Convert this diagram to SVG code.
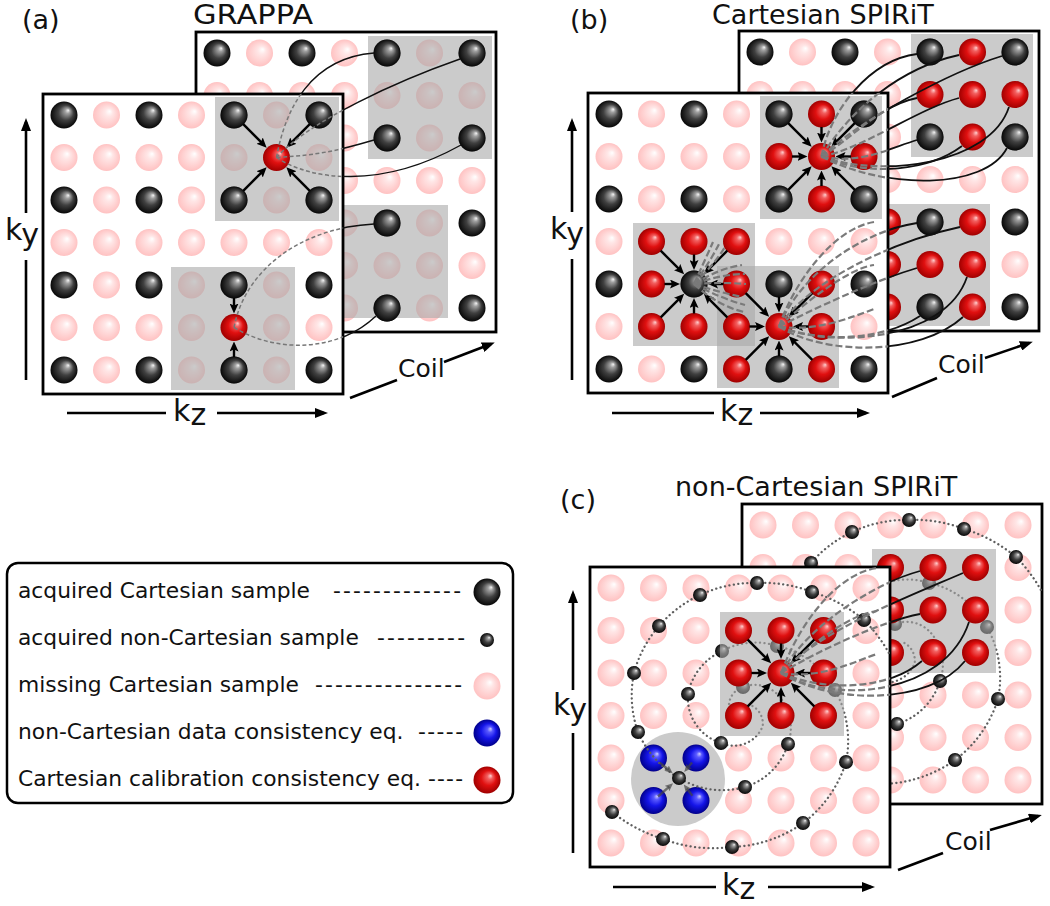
<svg xmlns="http://www.w3.org/2000/svg" width="1050" height="906" viewBox="0 0 1050 906">
<style>
text{font-family:"DejaVu Sans","Liberation Sans",sans-serif;fill:#111}
.ttl{font-size:27px}
.coil{font-size:25px}
.ax{font-size:30px}
.lg{font-size:21.8px}
.fr{fill:#fff;stroke:#000;stroke-width:2.8}
.gb{fill:#a8a8a8;fill-opacity:0.6}
.dot{fill:none;stroke:#5e5e5e;stroke-width:2.3;stroke-linecap:round;stroke-dasharray:0.1 4.4}
.ka path{fill:none;stroke:#000;stroke-width:2.4;marker-end:url(#ah)}
.axl{fill:none;stroke:#000;stroke-width:2.6}
.axm{marker-end:url(#ahx)}
.sa{fill:none;stroke:#111;stroke-width:1.4}
.da{fill:none;stroke:#777;stroke-width:1.5;stroke-dasharray:4 2.5}
.sb{fill:none;stroke:#111;stroke-width:1.8}
.db{fill:none;stroke:#7a7a7a;stroke-width:2.2;stroke-dasharray:7 3}
.bl path{fill:none;stroke:#444;stroke-opacity:0.7;stroke-width:2.4;marker-end:url(#ahg)}
</style>
<defs>
<radialGradient id="gBk" cx="0.5" cy="0.5" r="0.5" fx="0.66" fy="0.32"><stop offset="0" stop-color="#f6f6f6"/><stop offset="0.18" stop-color="#a0a0a0"/><stop offset="0.55" stop-color="#404040"/><stop offset="1" stop-color="#070707"/></radialGradient>
<radialGradient id="gRd" cx="0.5" cy="0.5" r="0.5" fx="0.64" fy="0.34"><stop offset="0" stop-color="#ffd0d0"/><stop offset="0.2" stop-color="#f26060"/><stop offset="0.55" stop-color="#e01010"/><stop offset="1" stop-color="#a00000"/></radialGradient>
<radialGradient id="gPk" cx="0.5" cy="0.5" r="0.5" fx="0.62" fy="0.36"><stop offset="0" stop-color="#ffffff"/><stop offset="0.3" stop-color="#ffe6e6"/><stop offset="1" stop-color="#ffc2c2"/></radialGradient>
<radialGradient id="gBu" cx="0.5" cy="0.5" r="0.5" fx="0.64" fy="0.34"><stop offset="0" stop-color="#d0d0ff"/><stop offset="0.2" stop-color="#5a5aff"/><stop offset="0.55" stop-color="#1515e8"/><stop offset="1" stop-color="#00008c"/></radialGradient>
<circle id="B" r="13.5" fill="url(#gBk)"/>
<circle id="P" r="13.5" fill="url(#gPk)"/>
<circle id="R" r="13.5" fill="url(#gRd)"/>
<circle id="U" r="13.5" fill="url(#gBu)"/>
<circle id="s" r="7" fill="url(#gBk)"/>
<marker id="ah" viewBox="0 0 10 9" refX="4" refY="4.5" markerWidth="10" markerHeight="9" markerUnits="userSpaceOnUse" orient="auto"><path d="M0,0L10,4.5L0,9L2,4.5z" fill="#000"/></marker>
<marker id="ahg" viewBox="0 0 8 7" refX="3" refY="3.5" markerWidth="8" markerHeight="7" markerUnits="userSpaceOnUse" orient="auto"><path d="M0,0L8,3.5L0,7L1.5,3.5z" fill="#444" fill-opacity="0.7"/></marker>
<marker id="ahx" viewBox="0 0 13 10" refX="9" refY="5" markerWidth="13" markerHeight="10" markerUnits="userSpaceOnUse" orient="auto"><path d="M0,0L13,5L0,10z" fill="#000"/></marker>
<g id="rBP"><use href="#B" x="21"/><use href="#P" x="63.5"/><use href="#B" x="106"/><use href="#P" x="148.5"/><use href="#B" x="191"/><use href="#P" x="233.5"/><use href="#B" x="276"/></g>
<g id="rP"><use href="#P" x="21"/><use href="#P" x="63.5"/><use href="#P" x="106"/><use href="#P" x="148.5"/><use href="#P" x="191"/><use href="#P" x="233.5"/><use href="#P" x="276"/></g>
<g id="gridBP"><use href="#rBP" y="21"/><use href="#rP" y="63.5"/><use href="#rBP" y="106"/><use href="#rP" y="148.5"/><use href="#rBP" y="191"/><use href="#rP" y="233.5"/><use href="#rBP" y="276"/></g>
<g id="gridP"><use href="#rP" y="21"/><use href="#rP" y="63.5"/><use href="#rP" y="106"/><use href="#rP" y="148.5"/><use href="#rP" y="191"/><use href="#rP" y="233.5"/><use href="#rP" y="276"/></g>
<g id="d4" class="ka"><path d="M-33.3,-33.3L-14.1,-14.1"/><path d="M33.3,-33.3L14.1,-14.1"/><path d="M-33.3,33.3L-14.1,14.1"/><path d="M33.3,33.3L14.1,14.1"/></g>
<g id="a4" class="ka"><path d="M0,-29.5V-20"/><path d="M0,29.5V20"/><path d="M-29.5,0H-20"/><path d="M29.5,0H20"/></g>
<g id="v2" class="ka"><path d="M0,-29.5V-20"/><path d="M0,29.5V20"/></g>
<g id="spiral">
<path class="dot" d="M162.4,139A20,20 0 0 1 172.7,159A31,31 0 0 1 131,176A47,47 0 0 1 98,127A60,60 0 0 1 132,84A70,70 0 0 1 187,79A85,85 0 0 1 245,123A105,105 0 0 1 256,195A121,121 0 0 1 213,256A131,131 0 0 1 142,280A142,142 0 0 1 73,272A157,157 0 0 1 22,245"/>
<path class="dot" d="M139,137A20,20 0 0 1 153,120A32,32 0 0 1 188,128A48,48 0 0 1 198,177A65,65 0 0 1 155,220A83,83 0 0 1 89,211A98,98 0 0 1 48,165A110,110 0 0 1 44,106A117,117 0 0 1 69,59A122,122 0 0 1 110,28A127,127 0 0 1 167,16A134,134 0 0 1 222,25A146,146 0 0 1 274,53A156,156 0 0 1 300,88"/>
<use href="#s" x="131" y="176"/><use href="#s" x="98" y="127"/><use href="#s" x="132" y="84"/><use href="#s" x="187" y="79"/><use href="#s" x="245" y="123"/><use href="#s" x="256" y="195"/><use href="#s" x="213" y="256"/><use href="#s" x="142" y="280"/><use href="#s" x="73" y="272"/><use href="#s" x="22" y="245"/>
<use href="#s" x="153" y="120"/><use href="#s" x="198" y="177"/><use href="#s" x="155" y="220"/><use href="#s" x="89" y="211"/><use href="#s" x="48" y="165"/><use href="#s" x="44" y="106"/><use href="#s" x="69" y="59"/><use href="#s" x="110" y="28"/><use href="#s" x="167" y="16"/><use href="#s" x="222" y="25"/><use href="#s" x="274" y="53"/>
</g>
<clipPath id="inA"><rect x="43" y="94" width="300" height="300"/></clipPath>
<clipPath id="outA"><path clip-rule="evenodd" d="M0,0H1050V906H0Z M43,94h300v300h-300Z"/></clipPath>
<clipPath id="inB"><rect x="588" y="93" width="300" height="300"/></clipPath>
<clipPath id="outB"><path clip-rule="evenodd" d="M0,0H1050V906H0Z M588,93h300v300h-300Z"/></clipPath>
<clipPath id="inC"><rect x="590" y="567" width="300" height="300"/></clipPath>
<clipPath id="outC"><path clip-rule="evenodd" d="M0,0H1050V906H0Z M590,567h300v300h-300Z"/></clipPath>
<clipPath id="loc"><rect x="0" y="0" width="300" height="300"/></clipPath>
</defs>
<rect width="1050" height="906" fill="#fff"/>

<!-- Panel (a) -->
<g id="a-back" transform="translate(196,32)">
<rect class="fr" x="0" y="0" width="300" height="300"/>
<use href="#gridBP"/>
<rect class="gb" x="172" y="4" width="124" height="123"/>
<rect class="gb" x="128" y="173" width="124" height="113"/>
<use href="#B" x="191" y="21"/><use href="#B" x="276" y="21"/><use href="#B" x="191" y="106"/><use href="#B" x="276" y="106"/>
<use href="#B" x="191" y="191"/><use href="#B" x="191" y="276"/>
</g>
<g id="a-front" transform="translate(43,94)">
<rect class="fr" x="0" y="0" width="300" height="300"/>
<use href="#gridBP"/>
<rect class="gb" x="172" y="3" width="124" height="124"/>
<rect class="gb" x="128" y="173" width="124" height="123"/>
<use href="#B" x="191" y="21"/><use href="#B" x="276" y="21"/><use href="#B" x="191" y="106"/><use href="#B" x="276" y="106"/>
<use href="#R" x="233.5" y="63.5"/>
<use href="#B" x="191" y="191"/><use href="#B" x="191" y="276"/>
<use href="#R" x="191" y="233.5"/>
</g>

<!-- Panel (b) -->
<g id="b-back" transform="translate(739,31)">
<rect class="fr" x="0" y="0" width="300" height="300"/>
<use href="#gridBP"/>
<rect class="gb" x="172" y="3" width="122" height="123"/>
<rect class="gb" x="129" y="173" width="122" height="122"/>
<use href="#B" x="191" y="21"/><use href="#R" x="233.5" y="21"/><use href="#B" x="276" y="21"/>
<use href="#R" x="191" y="63.5"/><use href="#R" x="233.5" y="63.5"/><use href="#R" x="276" y="63.5"/>
<use href="#B" x="191" y="106"/><use href="#R" x="233.5" y="106"/><use href="#B" x="276" y="106"/>
<use href="#R" x="148.5" y="191"/><use href="#B" x="191" y="191"/><use href="#R" x="233.5" y="191"/>
<use href="#R" x="148.5" y="233.5"/><use href="#R" x="191" y="233.5"/><use href="#R" x="233.5" y="233.5"/>
<use href="#R" x="148.5" y="276"/><use href="#B" x="191" y="276"/><use href="#R" x="233.5" y="276"/>
</g>
<g id="b-front" transform="translate(588,93)">
<rect class="fr" x="0" y="0" width="300" height="300"/>
<use href="#gridBP"/>
<rect class="gb" x="172" y="3" width="122" height="123"/>
<rect class="gb" x="45" y="130" width="122" height="123"/>
<rect class="gb" x="129" y="173" width="122" height="122"/>
<use href="#B" x="191" y="21"/><use href="#R" x="233.5" y="21"/><use href="#B" x="276" y="21"/>
<use href="#R" x="191" y="63.5"/><use href="#R" x="233.5" y="63.5"/><use href="#R" x="276" y="63.5"/>
<use href="#B" x="191" y="106"/><use href="#R" x="233.5" y="106"/><use href="#B" x="276" y="106"/>
<use href="#R" x="63.5" y="148.5"/><use href="#R" x="106" y="148.5"/><use href="#R" x="148.5" y="148.5"/>
<use href="#R" x="63.5" y="191"/><use href="#B" x="106" y="191"/><use href="#R" x="148.5" y="191"/>
<use href="#R" x="63.5" y="233.5"/><use href="#R" x="106" y="233.5"/><use href="#R" x="148.5" y="233.5"/>
<use href="#B" x="191" y="191"/><use href="#R" x="233.5" y="191"/>
<use href="#R" x="191" y="233.5"/><use href="#R" x="233.5" y="233.5"/>
<use href="#R" x="148.5" y="276"/><use href="#B" x="191" y="276"/><use href="#R" x="233.5" y="276"/>
</g>

<!-- Panel (c) -->
<g id="c-back" transform="translate(742,504)">
<rect class="fr" x="0" y="0" width="300" height="300"/>
<use href="#gridP"/>
<use href="#spiral"/>
<rect class="gb" x="130" y="45" width="124" height="124"/>
<use href="#R" x="148.5" y="63.5"/><use href="#R" x="191" y="63.5"/><use href="#R" x="233.5" y="63.5"/>
<use href="#R" x="148.5" y="106"/><use href="#R" x="191" y="106"/><use href="#R" x="233.5" y="106"/>
<use href="#R" x="148.5" y="148.5"/><use href="#R" x="191" y="148.5"/><use href="#R" x="233.5" y="148.5"/>
</g>
<g id="c-front" transform="translate(590,567)">
<rect class="fr" x="0" y="0" width="300" height="300"/>
<g clip-path="url(#loc)">
<use href="#gridP"/>
<circle class="gb" cx="88" cy="212" r="47"/>
<use href="#U" x="63.5" y="191"/><use href="#U" x="106" y="191"/><use href="#U" x="63.5" y="233.5"/><use href="#U" x="106" y="233.5"/>
<use href="#spiral"/>
<rect class="gb" x="130" y="45" width="124" height="124"/>
<use href="#R" x="148.5" y="63.5"/><use href="#R" x="191" y="63.5"/><use href="#R" x="233.5" y="63.5"/>
<use href="#R" x="148.5" y="106"/><use href="#R" x="191" y="106"/><use href="#R" x="233.5" y="106"/>
<use href="#R" x="148.5" y="148.5"/><use href="#R" x="191" y="148.5"/><use href="#R" x="233.5" y="148.5"/>
</g>
</g>

<!-- Connectors -->
<g id="connectors">
<use href="#d4" x="276.5" y="157.5"/>
<use href="#v2" x="234" y="327.5"/>
<use href="#d4" x="821.5" y="156.5"/><use href="#a4" x="821.5" y="156.5"/>
<use href="#d4" x="694" y="284"/><use href="#a4" x="694" y="284"/>
<use href="#d4" x="779" y="326.5"/><use href="#a4" x="779" y="326.5"/>
<use href="#d4" x="781" y="673"/><use href="#a4" x="781" y="673"/>
<g class="bl" transform="translate(590,567)"><path d="M69.8,195.6L78.8,203"/><path d="M102,195.6L97.4,201.1"/><path d="M68,229.5L79.3,219.6"/><path d="M102.4,228.7L96.8,221.4"/></g>
<g id="curves-a">
<g clip-path="url(#outA)" class="sa">
<path d="M276.5,157.5C285,110 310,58 374,53"/><path d="M276.5,157.5C310,120 400,80 460,59"/><path d="M276.5,157.5C320,155 340,150 374,140"/><path d="M276.5,157.5C310,180 380,190 461,145"/><path d="M234,327.5C245,270 300,228 374,224"/><path d="M234,327.5C280,355 340,350 376,316"/>
</g>
<g clip-path="url(#inA)" class="da">
<path d="M276.5,157.5C285,110 310,58 374,53"/><path d="M276.5,157.5C310,120 400,80 460,59"/><path d="M276.5,157.5C320,155 340,150 374,140"/><path d="M276.5,157.5C310,180 380,190 461,145"/><path d="M234,327.5C245,270 300,228 374,224"/><path d="M234,327.5C280,355 340,350 376,316"/>
</g>
</g>
<g id="curves-b">
<g clip-path="url(#outB)" class="sb">
<path d="M821.5,156.5C830,110 870,60 917,54"/><path d="M821.5,156.5C850,110 900,68 959,55"/><path d="M821.5,156.5C860,120 950,72 1002,56"/><path d="M821.5,156.5C850,140 880,105 917,98"/><path d="M821.5,156.5C860,150 920,108 959,98"/><path d="M821.5,156.5C880,178 990,165 1009,107"/><path d="M821.5,156.5C860,165 890,148 917,140"/><path d="M821.5,156.5C870,178 930,170 962,146"/><path d="M821.5,156.5C885,190 985,190 1007,148"/>
<path d="M779,326.5C795,280 835,228 874,222"/><path d="M779,326.5C800,275 860,232 917,223"/><path d="M779,326.5C808,282 890,242 960,227"/><path d="M779,326.5C808,300 850,268 874,265"/><path d="M779,326.5C812,310 870,282 917,268"/><path d="M779,326.5C830,348 945,342 967,277"/><path d="M779,326.5C815,332 850,318 874,309"/><path d="M779,326.5C818,342 880,342 920,316"/><path d="M779,326.5C825,356 920,356 963,317"/>
</g>
<g clip-path="url(#inB)" class="db">
<path d="M821.5,156.5C830,110 870,60 917,54"/><path d="M821.5,156.5C850,110 900,68 959,55"/><path d="M821.5,156.5C860,120 950,72 1002,56"/><path d="M821.5,156.5C850,140 880,105 917,98"/><path d="M821.5,156.5C860,150 920,108 959,98"/><path d="M821.5,156.5C880,178 990,165 1009,107"/><path d="M821.5,156.5C860,165 890,148 917,140"/><path d="M821.5,156.5C870,178 930,170 962,146"/><path d="M821.5,156.5C885,190 985,190 1007,148"/>
<path d="M779,326.5C795,280 835,228 874,222"/><path d="M779,326.5C800,275 860,232 917,223"/><path d="M779,326.5C808,282 890,242 960,227"/><path d="M779,326.5C808,300 850,268 874,265"/><path d="M779,326.5C812,310 870,282 917,268"/><path d="M779,326.5C830,348 945,342 967,277"/><path d="M779,326.5C815,332 850,318 874,309"/><path d="M779,326.5C818,342 880,342 920,316"/><path d="M779,326.5C825,356 920,356 963,317"/>
<path d="M694,284Q705,260 713,242"/><path d="M694,284Q710,262 719,244"/><path d="M694,284Q714,265 725,247"/><path d="M694,284Q720,268 742,265"/><path d="M694,284Q722,274 745,274"/><path d="M694,284Q722,282 746,284"/><path d="M694,284Q718,292 742,297"/><path d="M694,284Q720,298 745,305"/><path d="M694,284Q718,306 744,312"/>
</g>
</g>
<g id="curves-c">
<g clip-path="url(#outC)" class="sb">
<path d="M781,673C805,610 845,572 877,568"/><path d="M781,673C812,620 880,582 920,571"/><path d="M781,673C820,630 910,596 963,573"/><path d="M781,673C815,640 852,614 877,611"/><path d="M781,673C820,650 880,622 920,614"/><path d="M781,673C835,705 945,695 969,622"/><path d="M781,673C820,680 858,660 877,654"/><path d="M781,673C825,692 888,690 922,661"/><path d="M781,673C832,705 930,705 965,661"/>
</g>
<g clip-path="url(#inC)" class="db">
<path d="M781,673C805,610 845,572 877,568"/><path d="M781,673C812,620 880,582 920,571"/><path d="M781,673C820,630 910,596 963,573"/><path d="M781,673C815,640 852,614 877,611"/><path d="M781,673C820,650 880,622 920,614"/><path d="M781,673C835,705 945,695 969,622"/><path d="M781,673C820,680 858,660 877,654"/><path d="M781,673C825,692 888,690 922,661"/><path d="M781,673C832,705 930,705 965,661"/>
</g>
</g>
</g>

<!-- Axes and labels -->
<g id="axes">
<path class="axl" d="M26,380V260"/><path class="axl axm" d="M26,213V122"/>
<path class="axl" d="M67,413H166"/><path class="axl axm" d="M217,413H324"/>
<path class="axl" d="M350,398L397,380"/><path class="axl axm" d="M444,362L491,344"/>
<text class="ax" x="5" y="240">k<tspan dy="5">y</tspan></text>
<text class="ax" x="173" y="421">k<tspan dy="4">z</tspan></text>
<text class="coil" x="398" y="377">Coil</text>

<path class="axl" d="M572,380V259"/><path class="axl axm" d="M572,212V122"/>
<path class="axl" d="M612,413H714"/><path class="axl axm" d="M760,413H866"/>
<path class="axl" d="M892,397L937,378"/><path class="axl axm" d="M985,358L1029,343"/>
<text class="ax" x="550" y="239">k<tspan dy="5">y</tspan></text>
<text class="ax" x="720" y="421">k<tspan dy="4">z</tspan></text>
<text class="coil" x="938" y="373">Coil</text>

<path class="axl" d="M573,853V733"/><path class="axl axm" d="M573,690V594"/>
<path class="axl" d="M613,887H716"/><path class="axl axm" d="M768,887H871"/>
<path class="axl" d="M898,870L943,853"/><path class="axl axm" d="M990,830L1038,816"/>
<text class="ax" x="553" y="715">k<tspan dy="5">y</tspan></text>
<text class="ax" x="722" y="895">k<tspan dy="4">z</tspan></text>
<text class="coil" x="945" y="850">Coil</text>
</g>

<g id="titles">
<text class="ttl" x="22" y="29">(a)</text>
<text class="ttl" x="193" y="24" textLength="120" lengthAdjust="spacingAndGlyphs">GRAPPA</text>
<text class="ttl" x="570" y="29">(b)</text>
<text class="ttl" x="712" y="24">Cartesian SPIRiT</text>
<text class="ttl" x="560" y="509">(c)</text>
<text class="ttl" x="675" y="496">non-Cartesian SPIRiT</text>
</g>

<g id="legend">
<rect x="7" y="563" width="506" height="240" rx="11" fill="#fff" stroke="#000" stroke-width="2.5"/>
<text class="lg" x="18" y="598">acquired Cartesian sample</text>
<text class="lg" x="333" y="598" textLength="128" lengthAdjust="spacing">-------------</text>
<use href="#B" x="487" y="592"/>
<text class="lg" x="18" y="645">acquired non-Cartesian sample</text>
<text class="lg" x="377" y="645" textLength="88" lengthAdjust="spacing">---------</text>
<use href="#s" x="487" y="640"/>
<text class="lg" x="18" y="692">missing Cartesian sample</text>
<text class="lg" x="315" y="692" textLength="147" lengthAdjust="spacing">---------------</text>
<use href="#P" x="487" y="686"/>
<text class="lg" x="18" y="739">non-Cartesian data consistency eq.</text>
<text class="lg" x="418" y="739" textLength="45" lengthAdjust="spacing">-----</text>
<use href="#U" x="487" y="733"/>
<text class="lg" x="18" y="786">Cartesian calibration consistency eq.</text>
<text class="lg" x="428" y="786" textLength="35" lengthAdjust="spacing">----</text>
<use href="#R" x="487" y="780"/>
</g>
</svg>
